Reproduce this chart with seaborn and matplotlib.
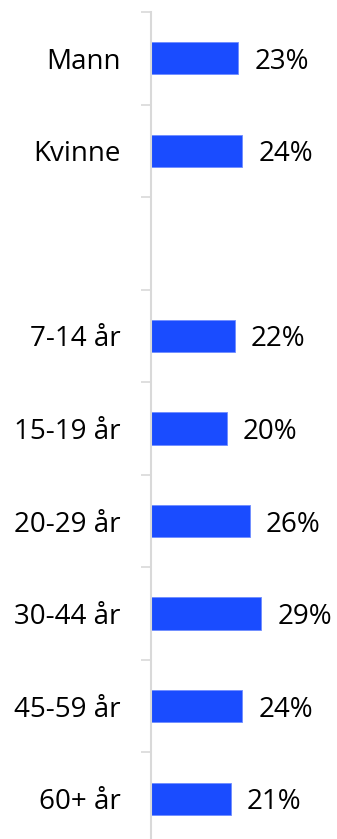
import numpy as np
import pandas as pd
import matplotlib
matplotlib.use('Agg')
import matplotlib.pyplot as plt
import seaborn as sns

# data
categories = ['Mann', 'Kvinne', ' ', '7-14 år', '15-19 år', '20-29 år', '30-44 år', '45-59 år', '60+ år']
values = [23, 24, np.nan, 22, 20, 26, 29, 24, 21]
value_labels = ['23%', '24%', '', '22%', '20%', '26%', '29%', '24%', '21%']

df = pd.DataFrame({'kategori': categories, 'andel': values})

sns.set_style('white')
plt.rcParams['font.family'] = ['Open Sans', 'DejaVu Sans']

W, H = 337, 839
fig = plt.figure(figsize=(W / 100, H / 100), dpi=100)
# axes: left spine at x=151, top at y=12, slots of ~92.5 px
ax = fig.add_axes([151 / W, (H - 845) / H, (W - 151) / W, 833 / H])

sns.barplot(data=df, x='andel', y='kategori', order=categories, orient='h',
            color='#1a4cff', saturation=1, width=0.35, ax=ax,
            edgecolor='#6f8cff', linewidth=0.6, errorbar=None)

ax.set_xlim(0, 186 / 3.8)
ax.set_ylim(len(categories) - 0.5, -0.5)

# value labels
for i, (v, lab) in enumerate(zip(values, value_labels)):
    if lab:
        ax.annotate(lab, xy=(v, i), xytext=(16 * 0.72, -2.5), textcoords='offset points',
                    ha='left', va='center', fontsize=20, color='black')

ax.set_xlabel('')
ax.set_ylabel('')
ax.set_xticks([])
ax.tick_params(axis='y', which='major', left=True, length=0, pad=22, labelsize=20, labelcolor='black')
ax.set_yticks(np.arange(-0.5, len(categories) + 0.5, 1), minor=True)
ax.tick_params(axis='y', which='minor', left=True, length=7.2, width=1.2, color='#d9d9d9')

for s in ['top', 'right', 'bottom']:
    ax.spines[s].set_visible(False)
ax.spines['left'].set_color('#d9d9d9')
ax.spines['left'].set_linewidth(1.5)

fig.savefig('out.png', dpi=100)
